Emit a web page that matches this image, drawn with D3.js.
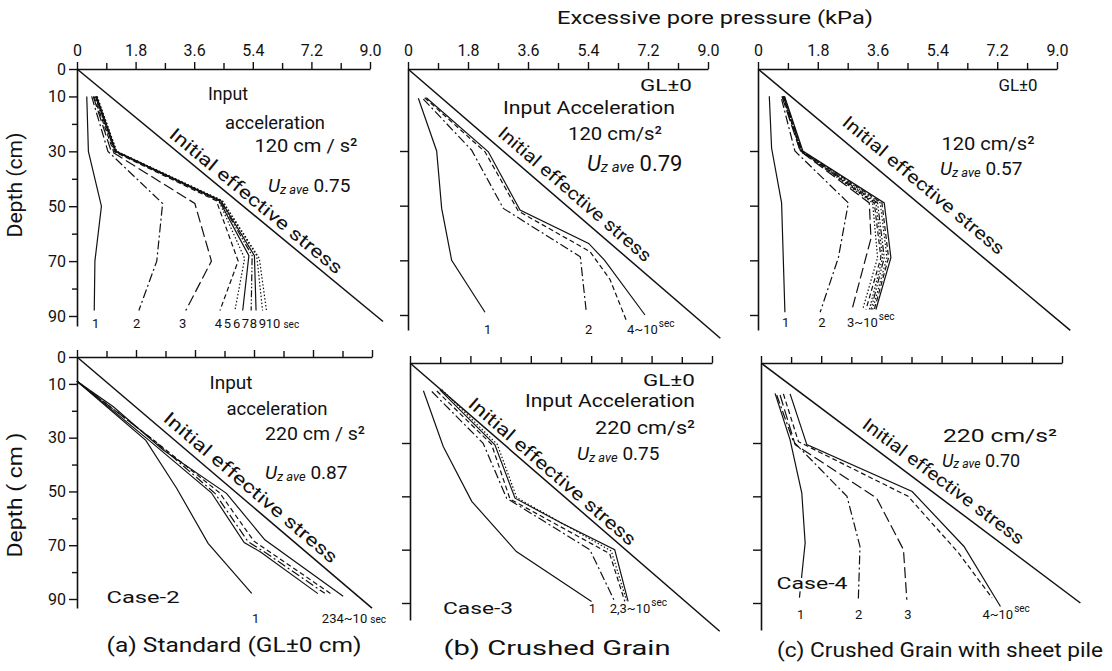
<!DOCTYPE html>
<meta charset="utf-8">
<body>
<script src="https://d3js.org/d3.v7.min.js"></script>
<style>
  body { margin: 0; background: #fff; }
  svg text { font-family: Roboto, "Liberation Sans", sans-serif; fill: #111; }
  .cv { fill: none; stroke: #111; stroke-width: 1.2; }
  .st { fill: none; stroke: #111; stroke-width: 1.5; }
</style>
<div id="chart"></div>
<script>
// axis ticks (kPa across, cm down)
var xTickVals = [0, 1.8, 3.6, 5.4, 7.2, 9.0];
var xMinorVals = [0.9, 2.7, 4.5, 6.3, 8.1];
var depthLabelVals = [0, 10, 30, 50, 70, 90];
var depthMinorVals = [20, 40, 60, 80];
var depthPlainVals = [30, 50, 70, 90];

// each curve = [pore pressure kPa, depth cm] at one elapsed second
// (a) standard, 120 cm/s2
var stdStress120 = [[0, 0], [9.4, 92]];
var std120 = [
  [[0.30,10],[0.35,30],[0.75,50],[0.55,70],[0.53,88]],
  [[0.45,10],[0.95,30],[2.63,49],[2.45,70],[1.90,88]],
  [[0.50,10],[1.05,30],[3.62,49],[4.13,70],[3.34,88]],
  [[0.52,10],[1.12,30],[4.28,48],[4.95,70],[4.39,88]],
  [[0.55,10],[1.15,30],[4.35,48],[5.15,69],[4.85,88]],
  [[0.57,10],[1.17,30],[4.37,48],[5.28,68],[5.09,88]],
  [[0.59,10],[1.19,30],[4.40,48],[5.38,68],[5.35,88]],
  [[0.60,10],[1.20,30],[4.42,48],[5.45,68],[5.50,88]],
  [[0.61,10],[1.21,30],[4.45,48],[5.52,68],[5.70,88]],
  [[0.62,10],[1.22,30],[4.47,48],[5.60,69],[5.82,88]]
];
var std120Tags = [["1",0.46],["2",1.72],["3",3.13],["4",4.23],["5",4.51],["6",4.79],["7",5.06],["8",5.31],["9",5.58],["10",5.80]];

// (b) crushed grain, 120 cm/s2
var crushStress120 = [[0, 0], [9.37, 98.5]];
var crush120 = [
  [[0.31,10.7],[0.86,30],[1.01,51],[1.31,70],[2.31,89]],
  [[0.46,11],[1.91,29.7],[2.86,51],[5.17,68.7],[5.35,89]],
  [[0.50,10.5],[2.31,30.3],[3.31,52],[5.46,66.8],[6.06,77],[6.55,92]],
  [[0.55,10.5],[2.41,30.3],[3.36,51.6],[5.42,63.8],[5.90,70],[7.11,90]]
];
var crush120Tags = [["1",2.28],["2",5.31],["4~10",6.57]];

// (c) crushed grain with sheet pile, 120 cm/s2
var sheetStress120 = [[0, 0], [9.4, 95.6]];
var sheet120 = [
  [[0.34,10],[0.41,29],[0.71,49],[0.76,69],[0.81,89]],
  [[0.71,11],[1.11,30],[2.72,49],[2.42,69],[1.87,89]],
  [[0.72,10],[1.27,30],[3.35,49],[3.40,62],[2.83,88]],
  [[0.74,10],[1.28,30],[3.45,49],[3.60,69],[3.15,88]],
  [[0.75,10],[1.29,30],[3.50,49],[3.70,69],[3.25,88]],
  [[0.76,10],[1.30,30],[3.55,49],[3.75,69],[3.35,88]],
  [[0.77,10],[1.31,30],[3.60,49],[3.80,69],[3.40,88]],
  [[0.78,10],[1.32,30],[3.68,49],[3.88,69],[3.45,88]],
  [[0.79,10],[1.33,30],[3.73,49],[3.93,69],[3.50,88]],
  [[0.80,10],[1.35,30],[3.80,49],[4.00,69],[3.55,88]]
];
var sheet120Tags = [["1",0.72],["2",1.81],["3~10",2.68]];

// (a) standard, 220 cm/s2
var stdStress220 = [[0, 0], [9.0, 93.4]];
var std220 = [
  [[0,9],[2.10,31],[3.04,48.8],[4.00,69.3],[5.33,87.9]],
  [[0,9],[2.33,30.9],[4.21,50.7],[5.22,68.7],[5.78,73],[7.56,87.9]],
  [[0,9],[2.20,31],[4.10,50.5],[5.10,69],[5.60,72.5],[7.35,88]],
  [[0,9],[2.45,32],[4.35,50.5],[5.40,68.5],[7.80,88.5]],
  [[0,9],[1.11,18.5],[2.63,34.6],[4.56,50.7],[5.73,68],[8.12,89]]
];
var std220Tags = [["1",5.34],["234~10",7.47]];

// (b) crushed grain, 220 cm/s2
var crushStress220 = [[0, 0], [9.23, 100.6]];
var crush220 = [
  [[0.40,10.4],[0.99,31.3],[1.84,51.9],[3.17,70.7],[5.41,89.4]],
  [[0.65,10.7],[2.18,30.1],[2.88,50.7],[5.36,70],[6.10,89.4]],
  [[0.80,10.5],[2.43,30.5],[2.98,51],[5.95,71.5],[6.40,89.4]],
  [[0.95,10],[2.60,30.5],[3.18,50.5],[6.00,70.5],[6.45,89]],
  [[0.89,10.1],[2.53,30.7],[3.13,50.7],[4.51,60],[6.10,70],[6.50,89.4]]
];
var crush220Tags = [["1",5.33],["2,3~10",5.95]];

// (c) crushed grain with sheet pile, 220 cm/s2
var sheetStress220 = [[0, 0], [9.55, 90]];
var sheet220 = [
  [[0.42,11.4],[0.87,28.8],[1.22,48.8],[1.32,67.5],[1.15,88]],
  [[0.47,12],[0.97,29.5],[2.57,50],[2.96,68.8],[2.91,88.8]],
  [[0.57,12],[1.02,30.6],[3.46,50.7],[4.26,70],[4.36,88.8]],
  [[0.67,11.6],[1.12,29.5],[4.40,50],[5.91,71.3],[6.91,88.1]],
  [[0.87,11.6],[1.37,30.6],[4.52,48.2],[6.07,68.8],[7.16,91.3]]
];
var sheet220Tags = [["1",1.08],["2",2.81],["3",4.28],["4~10",6.62]];

var dashes = {
  solid: null, dashdot: "9,3,2,3", longdash: "11,4", dash: "5,3",
  dot: "1.5,2", dashdot2: "7,2,1.5,2,1.5,2"
};

var panels = [
  {curves: std120, stress: stdStress120, tags: std120Tags, xr: [77, 370], yr: [69, 316], yEnd: 326,
   xLab: true, yLab: true, tagD: 92.5, secUp: false,
   styles: ["solid","dashdot","longdash","dash","dot","solid","dashdot2","solid","dot","dot"],
   eff: [0.56, 6, 218]},
  {curves: crush120, stress: crushStress120, tags: crush120Tags, xr: [408, 708], yr: [69, 315], yEnd: 330,
   xLab: true, yLab: false, tagD: 95, secUp: true,
   styles: ["solid","dashdot","dash","solid"],
   eff: [0.505, 8, 196]},
  {curves: sheet120, stress: sheetStress120, tags: sheet120Tags, xr: [758, 1057], yr: [69, 315], yEnd: 330,
   xLab: true, yLab: false, tagD: 92.5, secUp: true,
   styles: ["solid","dashdot","longdash","dot","dash","dot","dashdot2","dot","dash","solid"],
   eff: [0.495, 11, 205]},
  {curves: std220, stress: stdStress220, tags: std220Tags, xr: [77, 372], yr: [357, 599], yEnd: 608,
   xLab: false, yLab: true, tagD: 97, secUp: false,
   styles: ["solid","dashdot","solid","dash","solid"],
   eff: [0.56, 7, 222]},
  {curves: crush220, stress: crushStress220, tags: crush220Tags, xr: [410, 712], yr: [363, 603], yEnd: 620,
   xLab: false, yLab: false, tagD: 92, secUp: true,
   styles: ["solid","dashdot","dash","dot","solid"],
   eff: [0.436, 5, 215]},
  {curves: sheet220, stress: sheetStress220, tags: sheet220Tags, xr: [761, 1062], yr: [363, 603], yEnd: 630,
   xLab: false, yLab: false, tagD: 94, secUp: true,
   styles: ["solid","dashdot","longdash","dash","solid"],
   eff: [0.543, 9, 197]}
];

var svg = d3.select("#chart").append("svg")
    .attr("width", 1112)
    .attr("height", 671);

function styleAxis(a, size) {
  a.select(".domain").attr("stroke", "#111").attr("stroke-width", 1.6);
  a.selectAll(".tick line").attr("stroke", "#111").attr("stroke-width", 1.4);
  a.selectAll("text").attr("font-size", size).attr("font-family", null).attr("fill", "#111");
}

panels.forEach(function(p) {
  var x = d3.scaleLinear().domain([0, 9]).range(p.xr);
  var y = d3.scaleLinear().domain([0, 90]).range(p.yr);
  var yLong = y.copy().domain([0, y.invert(p.yEnd)]).range([p.yr[0], p.yEnd]);
  var g = svg.append("g");

  // x axis along the ground line, ticks pointing up
  var xa = g.append("g")
      .attr("transform", "translate(0," + y(0) + ")")
      .call(d3.axisTop(x).tickValues(xTickVals).tickSize(7).tickSizeOuter(0).tickPadding(6)
        .tickFormat(function(d) { return p.xLab ? (d === 0 ? "0" : d.toFixed(1)) : ""; }));
  styleAxis(xa, 16);
  var xm = g.append("g")
      .attr("transform", "translate(0," + y(0) + ")")
      .call(d3.axisTop(x).tickValues(xMinorVals).tickSize(6).tickSizeOuter(0).tickFormat(""));
  styleAxis(xm, 16);
  xm.select(".domain").remove();

  // depth axis
  var ya = g.append("g")
      .attr("transform", "translate(" + x(0) + ",0)")
      .call(d3.axisLeft(yLong).tickValues(p.yLab ? depthLabelVals : depthPlainVals)
        .tickSize(8).tickSizeOuter(0).tickPadding(3)
        .tickFormat(function(d) { return p.yLab ? d : ""; }));
  styleAxis(ya, 16);
  if (p.yLab) {
    var ym = g.append("g")
        .attr("transform", "translate(" + x(0) + ",0)")
        .call(d3.axisLeft(yLong).tickValues(depthMinorVals).tickSize(5).tickSizeOuter(0).tickFormat(""));
    styleAxis(ym, 16);
    ym.select(".domain").remove();
  }

  var line = d3.line().x(function(d) { return x(d[0]); }).y(function(d) { return y(d[1]); });

  // initial effective stress
  g.append("path").attr("class", "st").attr("d", line(p.stress));
  var a = [x(p.stress[0][0]), y(p.stress[0][1])], b = [x(p.stress[1][0]), y(p.stress[1][1])];
  var ang = Math.atan2(b[1] - a[1], b[0] - a[0]) * 180 / Math.PI;
  var cx = a[0] + p.eff[0] * (b[0] - a[0]), cy = a[1] + p.eff[0] * (b[1] - a[1]);
  g.append("text")
      .attr("transform", "translate(" + cx + "," + cy + ") rotate(" + ang + ")")
      .attr("text-anchor", "middle")
      .attr("dy", -p.eff[1])
      .attr("font-size", 18)
      .attr("textLength", p.eff[2])
      .attr("lengthAdjust", "spacingAndGlyphs")
      .text("Initial effective stress");

  // pore pressure isochrones
  g.selectAll(".cv").data(p.curves).join("path")
      .attr("class", "cv")
      .attr("d", line)
      .attr("stroke-dasharray", function(d, i) { return dashes[p.styles[i]]; });

  // time tags under the curves, the last one carries "sec"
  var n = p.tags.length;
  g.selectAll(".tag").data(p.tags).join("text")
      .attr("class", "tag")
      .attr("x", function(d) { return x(d[1]); })
      .attr("y", y(p.tagD))
      .attr("dominant-baseline", "central")
      .attr("font-size", 13)
      .each(function(d, i) {
        var t = d3.select(this);
        t.append("tspan").text(d[0]);
        if (i === n - 1) {
          t.append("tspan").attr("font-size", 10).attr("dx", p.secUp ? 1 : 3)
              .attr("dy", p.secUp ? -6 : 1).text("sec");
        }
      });
});

// free text
function note(x, y, str, size, width, anchor) {
  var t = svg.append("text")
      .attr("x", x).attr("y", y)
      .attr("dominant-baseline", "central")
      .attr("text-anchor", anchor || "middle")
      .attr("font-size", size)
      .text(str);
  if (width) t.attr("textLength", width).attr("lengthAdjust", "spacingAndGlyphs");
  return t;
}
function uz(x, y, val, size) {
  var t = svg.append("text").attr("x", x).attr("y", y).attr("dominant-baseline", "central");
  t.append("tspan").attr("font-style", "italic").attr("font-size", size).text("U");
  t.append("tspan").attr("font-style", "italic").attr("font-size", size * 0.68).attr("dy", 4).text("z ave");
  t.append("tspan").attr("font-size", size).attr("dy", -4).text(" " + val);
  return t;
}

note(715, 17, "Excessive pore pressure (kPa)", 19, 316);
note(15, 185, "Depth (cm)", 20, 105).attr("transform", "rotate(-90,15,185)");
note(15, 495, "Depth ( cm )", 20, 125).attr("transform", "rotate(-90,15,495)");

// (a) 120
note(228, 93, "Input", 18, 40);
note(275, 122, "acceleration", 18, 100);
note(306, 145, "120 cm / s\u00b2", 19, 103);
uz(268, 185, "0.75", 19);
// (b) 120
note(666, 85, "GL\u00b10", 17, 52);
note(589, 107, "Input Acceleration", 19, 172);
note(615, 133, "120 cm/s\u00b2", 19, 94);
uz(587, 163, "0.79", 22);
// (c) 120
note(1018, 85, "GL\u00b10", 17, 39);
note(988, 143, "120 cm/s\u00b2", 19, 93);
uz(940, 168, "0.57", 19);
// (a) 220
note(231, 382, "Input", 18, 43);
note(277, 408, "acceleration", 18, 101);
note(315, 433, "220 cm / s\u00b2", 19, 100);
uz(265, 472, "0.87", 19);
note(143, 597, "Case-2", 17, 73);
// (b) 220
note(669, 380, "GL\u00b10", 17, 52);
note(610, 400, "Input Acceleration", 19, 170);
note(645, 427, "220 cm/s\u00b2", 19, 100);
uz(577, 453, "0.75", 19);
note(478, 608, "Case-3", 17, 70);
// (c) 220
note(1000, 435, "220 cm/s\u00b2", 18, 114);
uz(942, 460, "0.70", 18);
note(812, 583, "Case-4", 17, 71).attr("stroke", "#fff").attr("stroke-width", 5).attr("paint-order", "stroke");

// captions
note(234, 645, "(a) Standard (GL\u00b10 cm)", 20, 255);
note(557, 648, "(b) Crushed  Grain", 20, 227);
note(940, 650, "(c) Crushed Grain with sheet pile", 20, 326);
</script>
